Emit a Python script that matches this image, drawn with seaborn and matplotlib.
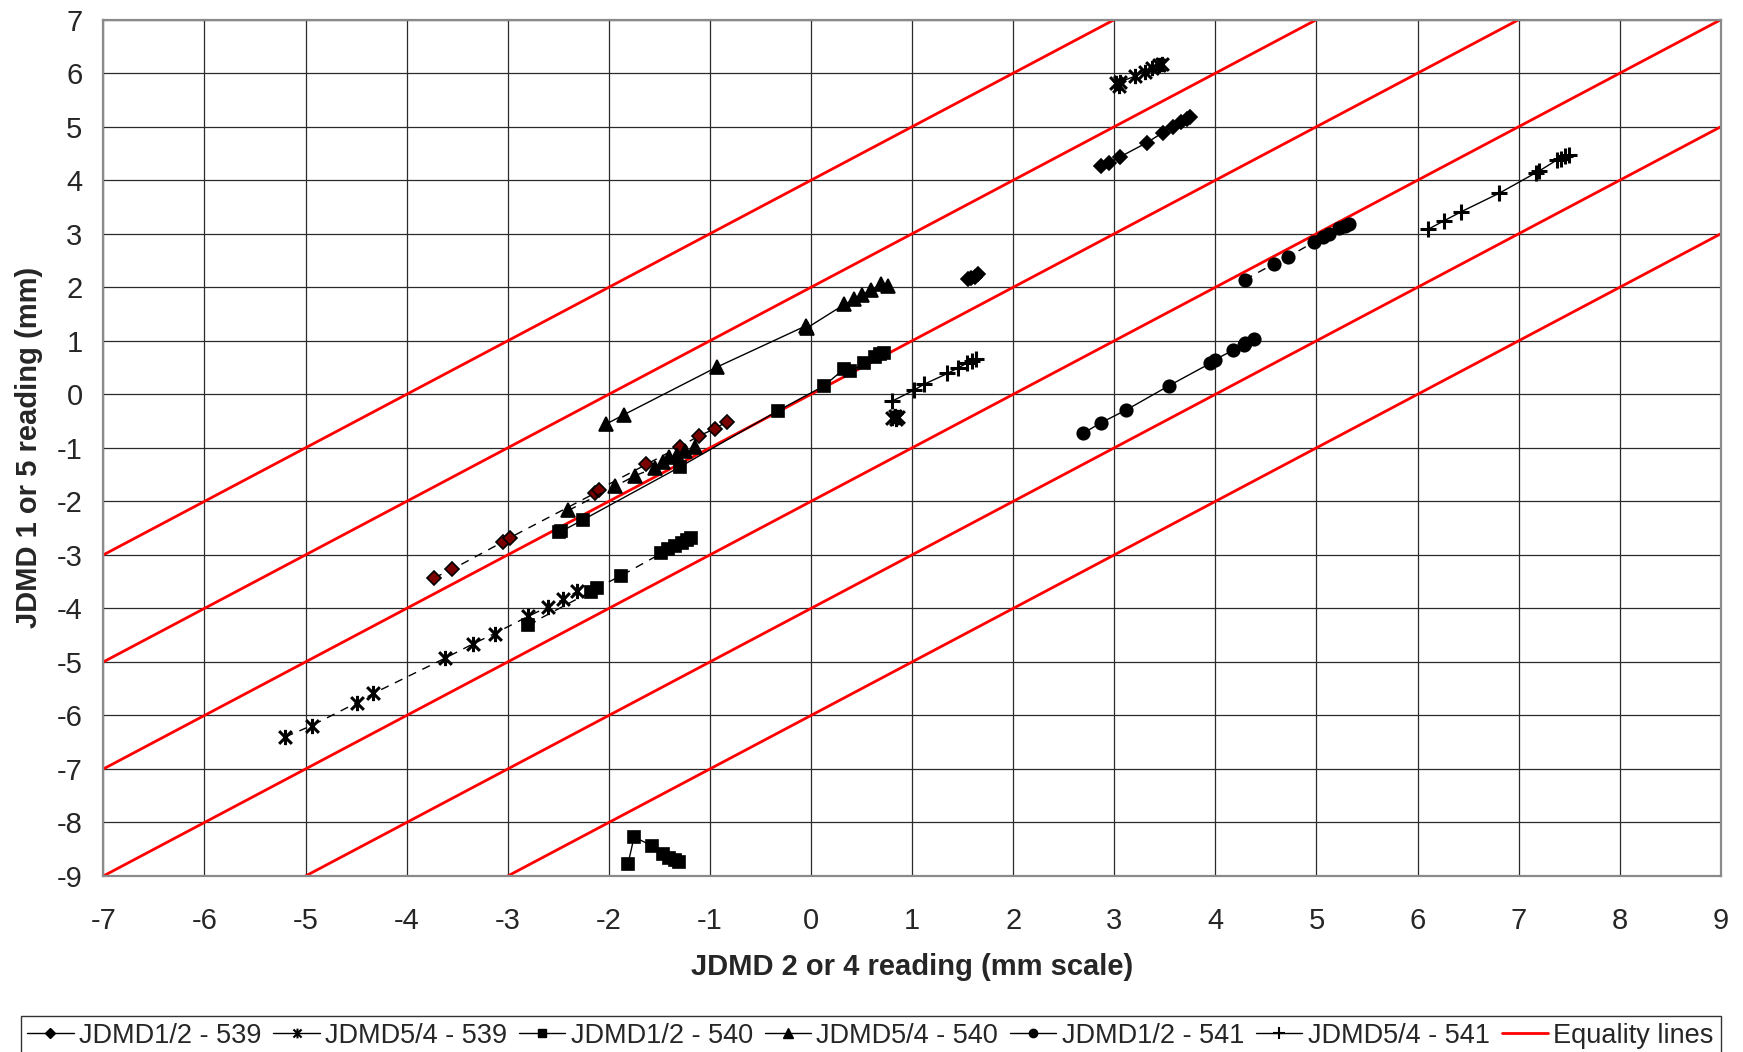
import seaborn as sns
import matplotlib.pyplot as plt
from matplotlib.lines import Line2D
from matplotlib.path import Path
import pandas as pd

# JDMD1/2 - 539 (diamonds)
d539_a_x = [-3.73, -3.55, -3.05, -2.98, -2.14, -2.10, -1.63, -1.30, -1.11, -0.95, -0.83]
d539_a_y = [-3.43, -3.27, -2.76, -2.68, -1.85, -1.78, -1.31, -0.98, -0.78, -0.64, -0.51]
d539_b_x = [2.87, 2.95, 3.06, 3.32, 3.48, 3.58, 3.66, 3.72, 3.75]
d539_b_y = [4.27, 4.33, 4.44, 4.70, 4.89, 5.00, 5.09, 5.15, 5.19]
d539_c_x = [1.55, 1.58, 1.62, 1.65]
d539_c_y = [2.15, 2.17, 2.20, 2.24]

# JDMD5/4 - 539 (asterisks)
s539_a_x = [-5.20, -4.94, -4.49, -4.33, -3.62, -3.34, -3.13, -2.80, -2.60, -2.45, -2.31]
s539_a_y = [-6.40, -6.19, -5.76, -5.59, -4.93, -4.66, -4.47, -4.15, -3.97, -3.83, -3.68]
s539_b_x = [0.80, 0.83, 0.86, 0.84]
s539_b_y = [-0.45, -0.40, -0.42, -0.47]
s539_c_x = [3.02, 3.05, 3.06, 3.20, 3.30, 3.37, 3.44, 3.47]
s539_c_y = [5.81, 5.77, 5.84, 5.94, 6.03, 6.09, 6.16, 6.18]

# JDMD1/2 - 540 (squares)
q540_a_x = [-2.49, -2.47, -2.26, -1.30, -0.33, 0.13, 0.33, 0.39, 0.52, 0.63, 0.68, 0.72]
q540_a_y = [-2.58, -2.56, -2.35, -1.36, -0.31, 0.16, 0.48, 0.43, 0.58, 0.70, 0.75, 0.78]
q540_b_x = [-2.80, -2.18, -2.12, -1.88, -1.48, -1.41, -1.35, -1.28, -1.23, -1.19]
q540_b_y = [-4.31, -3.69, -3.62, -3.39, -2.97, -2.89, -2.83, -2.77, -2.73, -2.68]
q540_c_x = [-1.81, -1.75, -1.57, -1.46, -1.40, -1.35, -1.31]
q540_c_y = [-8.77, -8.27, -8.44, -8.59, -8.66, -8.70, -8.73]

# JDMD5/4 - 540 (triangles)
t540_a_x = [-2.03, -1.85, -0.93, -0.05, -0.04, 0.33, 0.43, 0.50, 0.59, 0.69, 0.76]
t540_a_y = [-0.56, -0.38, 0.51, 1.28, 1.24, 1.68, 1.78, 1.86, 1.94, 2.06, 2.03]
t540_b_x = [-2.40, -1.94, -1.74, -1.54, -1.46, -1.40, -1.33, -1.25, -1.15]
t540_b_y = [-2.17, -1.72, -1.52, -1.37, -1.26, -1.18, -1.13, -1.06, -0.98]

# JDMD1/2 - 541 (circles)
c541_a_x = [2.69, 2.87, 3.12, 3.54, 3.95, 4.00, 4.17, 4.28, 4.29, 4.38]
c541_a_y = [-0.73, -0.53, -0.29, 0.16, 0.58, 0.65, 0.82, 0.93, 0.96, 1.04]
c541_b_x = [4.29, 4.58, 4.72, 4.98, 5.06, 5.12, 5.22, 5.28, 5.32]
c541_b_y = [2.14, 2.44, 2.57, 2.85, 2.94, 3.00, 3.10, 3.14, 3.19]

# JDMD5/4 - 541 (plus)
p541_a_x = [6.10, 6.26, 6.43, 6.81, 7.17, 7.20, 7.38, 7.42, 7.46, 7.50]
p541_a_y = [3.08, 3.24, 3.41, 3.76, 4.14, 4.17, 4.38, 4.40, 4.45, 4.48]
p541_b_x = [0.80, 1.02, 1.12, 1.35, 1.45, 1.54, 1.59, 1.63]
p541_b_y = [-0.13, 0.08, 0.19, 0.39, 0.49, 0.58, 0.63, 0.66]

# equality lines y = x + c
equality_offsets = [4, 2, 0, -2, -4, -6]

x_ticks = list(range(-7, 10))
y_ticks = list(range(-9, 8))

series_labels = ["JDMD1/2 - 539", "JDMD5/4 - 539", "JDMD1/2 - 540",
                 "JDMD5/4 - 540", "JDMD1/2 - 541", "JDMD5/4 - 541"]

# excel-style star: an X with a vertical bar
STAR = Path([(-1, -1), (1, 1), (-1, 1), (1, -1), (0, -1.2), (0, 1.2)],
            [Path.MOVETO, Path.LINETO, Path.MOVETO, Path.LINETO,
             Path.MOVETO, Path.LINETO])


def main():
    sns.set_style("white")
    plt.rcParams["font.family"] = ["Liberation Sans", "DejaVu Sans"]
    plt.rcParams["axes.unicode_minus"] = False

    fig = plt.figure(figsize=(17.43, 10.52), dpi=100)
    ax = fig.add_axes([0.0593, 0.1673, 0.928, 0.814])

    # equality lines (under the data)
    for c in equality_offsets:
        ax.axline((0, c), slope=1, color="#ff0000", lw=2.0, zorder=2)

    dash = (6, 5)
    segments = [
        # x, y, marker, size, face, linestyle
        (d539_a_x, d539_a_y, "D", 7, "#7a0000", dash),
        (d539_b_x, d539_b_y, "D", 7, "black", ""),
        (d539_c_x, d539_c_y, "D", 7, "black", ""),
        (s539_a_x, s539_a_y, STAR, 11, "black", dash),
        (s539_b_x, s539_b_y, STAR, 11, "black", ""),
        (s539_c_x, s539_c_y, STAR, 11, "black", ""),
        (q540_a_x, q540_a_y, "s", 8, "black", ""),
        (q540_b_x, q540_b_y, "s", 8, "black", dash),
        (q540_c_x, q540_c_y, "s", 8, "black", ""),
        (t540_a_x, t540_a_y, "^", 10, "black", ""),
        (t540_b_x, t540_b_y, "^", 10, "black", dash),
        (c541_a_x, c541_a_y, "o", 9, "black", ""),
        (c541_b_x, c541_b_y, "o", 9, "black", dash),
        (p541_a_x, p541_a_y, "+", 11, "black", ""),
        (p541_b_x, p541_b_y, "+", 11, "black", ""),
    ]
    for xs, ys, mk, ms, fc, ls in segments:
        df = pd.DataFrame({"x": xs, "y": ys})
        thick = mk is STAR or mk == "+"
        sns.lineplot(data=df, x="x", y="y", sort=False, estimator=None,
                     ax=ax, color="black", lw=1.0, marker=mk, markersize=ms,
                     markerfacecolor=fc, markeredgecolor="black",
                     markeredgewidth=2.2 if thick else 1.2,
                     dashes=ls if ls else (None, None), zorder=3)

    ax.set_xlim(-7, 9)
    ax.set_ylim(-9, 7)
    ax.set_xticks(x_ticks)
    ax.set_yticks(y_ticks)
    ax.grid(True, color="#2a2a2a", lw=0.9)
    ax.set_axisbelow(True)
    for s in ax.spines.values():
        s.set_color("#8a8a8a")
        s.set_linewidth(1.6)
    ax.tick_params(axis="both", labelsize=21, length=0)
    ax.tick_params(axis="x", pad=22)
    ax.tick_params(axis="y", pad=15)
    ax.set_xlabel("JDMD 2 or 4 reading (mm scale)", fontsize=21,
                  fontweight="bold", labelpad=13)
    ax.set_ylabel("JDMD 1 or 5 reading (mm)", fontsize=21,
                  fontweight="bold", labelpad=10)

    handles = [
        Line2D([], [], color="black", lw=1, marker="D", ms=5),
        Line2D([], [], color="black", lw=1, marker=STAR, ms=7, mew=1.5),
        Line2D([], [], color="black", lw=1, marker="s", ms=6),
        Line2D([], [], color="black", lw=1, marker="^", ms=7),
        Line2D([], [], color="black", lw=1, marker="o", ms=6),
        Line2D([], [], color="black", lw=1, marker="+", ms=8, mew=1.5),
        Line2D([], [], color="#ff0000", lw=2),
    ]
    leg = fig.legend(handles, series_labels + ["Equality lines"],
                     loc="lower center", bbox_to_anchor=(0.4995, -0.016),
                     ncol=7, fontsize=19.5, frameon=True, fancybox=False,
                     handlelength=1.7, handletextpad=0.2, columnspacing=0.45,
                     borderpad=0.25, edgecolor="black")
    leg.get_frame().set_linewidth(1.0)

    fig.savefig("out.png", dpi=100)


if __name__ == "__main__":
    main()
